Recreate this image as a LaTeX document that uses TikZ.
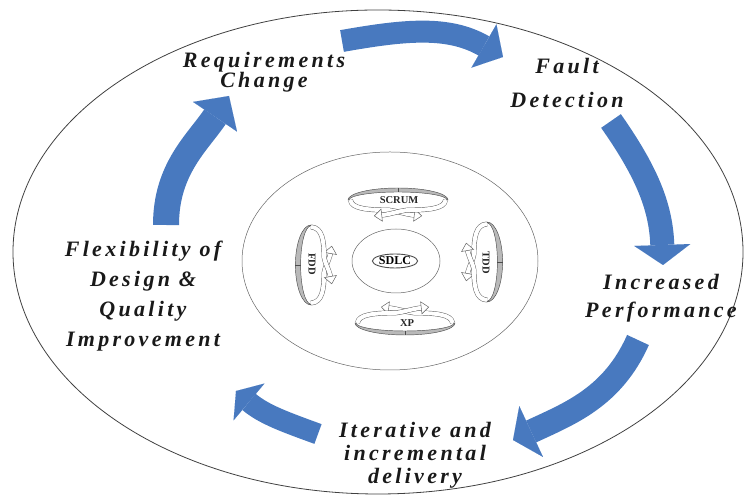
\documentclass[tikz,border=0pt]{standalone}
\usepackage{fontspec}
\setmainfont{Liberation Serif}
\newfontfamily\fazafont[LetterSpace=15]{Liberation Serif}
\usepackage{tikz}
\usetikzlibrary{arrows.meta,shapes.geometric}

\definecolor{modra}{RGB}{72,121,191}
\newcommand{\fazapis}[1]{\fazafont\bfseries\itshape\fontsize{22}{#1}\selectfont}

\tikzset{
  faza/.style={align=center, inner sep=0pt, text=black!90},
  oznaka/.style={inner sep=0pt, font=\bfseries\fontsize{10.5}{12}\selectfont, text=black!85},
  pot/.style n args={3}{draw=modra, line width=#1,
    -{Triangle[length=#2, width=#3, line width=0.01pt]}},
  trak/.style={draw=black!65, line width=0.45pt, double=white, double distance=4pt,
    -{Triangle[length=8pt, width=13pt, fill=white, line width=0.45pt]}},
  krog/.pic={
    %zadnji del obroca
    \filldraw[fill=gray!55, draw=black!70, line width=0.45pt]
      (-50,0) arc (180:0:50 and 12) -- (49,0) arc (0:180:49 and 8) -- cycle;
    \draw[black!70, line width=0.45pt] (0,8) -- (0,12);
    %prekrizani puscici
    \draw[trak] (-47.5,0) .. controls (-47,-9) and (-28,-10) .. (-12,-10)
      .. controls (-4,-10) and (6,-14) .. (24,-16);
    \draw[trak] (47.5,0) .. controls (47,-9) and (28,-10) .. (12,-10)
      .. controls (4,-10) and (-6,-14) .. (-24,-16);
  }
}

\begin{document}
\begin{tikzpicture}[x=1pt,y=1pt]
\useasboundingbox (0,0) rectangle (745,497);

%zunanja in notranja elipsa
\draw[black!75, line width=0.8pt] (378,245) ellipse (365 and 242);
\draw[black!60, line width=0.5pt] (390,236) ellipse (148 and 109);

%jedro
\node[draw=black!60, line width=0.5pt, ellipse, minimum width=88pt, minimum height=64pt] (jedro) at (396,236) {};
\node[draw=black!70, line width=0.9pt, ellipse, inner sep=0pt, minimum width=44pt, minimum height=14pt,
  font=\bfseries\fontsize{12}{12}\selectfont] (sdlc) at (395,236) {SDLC};

%metode okrog jedra
\pic at (398,297) {krog};
\pic[rotate=180] at (405,174) {krog};
\pic[rotate=90, xscale=0.8, yscale=1.3] at (311,232) {krog};
\pic[rotate=-90, xscale=0.8, yscale=1.3] at (487,235) {krog};
\node[oznaka] (scrum) at (399,297) {SCRUM};
\node[oznaka] (xp) at (407,174) {XP};
\node[oznaka, rotate=-90] (fdd) at (312,233) {FDD};
\node[oznaka, rotate=-90] (tdd) at (486,234) {TDD};

%faze cikla
\node[faza, font=\fazapis{20}] (zahteve) at (264,425) {Requirements\\Change};
\node[faza, font=\fazapis{34}] (napake) at (567,414) {Fault\\Detection};
\node[faza, font=\fazapis{28}] (zmogljivost) at (661,199) {Increased\\Performance};
\node[faza, font=\fazapis{23}] (dostava) at (415,42) {Iterative and\\incremental\\delivery};
\node[faza, font=\fazapis{30}] (prilagodljivost) at (143,201) {Flexibility of\\Design \&\\Quality\\Improvement};

%modre puscice
\coordinate (zahteve-iz) at (342,456);
\coordinate (napake-v) at (503,440);
\coordinate (napake-iz) at (611,376);
\coordinate (zmogljivost-v) at (663,232);
\coordinate (zmogljivost-iz) at (638,157);
\coordinate (dostava-v) at (513,57);
\coordinate (dostava-iz) at (318,63);
\coordinate (prilagodljivost-v) at (236,106);
\coordinate (prilagodljivost-iz) at (166,272);
\coordinate (zahteve-v) at (229,401);

\draw[pot={22pt}{22pt}{50pt}] (zahteve-iz) to[out=10,in=150] (napake-v);
\draw[pot={24pt}{20pt}{56pt}] (napake-iz) to[out=-55,in=92] (zmogljivost-v);
\draw[pot={24pt}{20pt}{56pt}] (zmogljivost-iz) to[out=246,in=25] (dostava-v);
\draw[pot={21pt}{17pt}{48pt}] (dostava-iz) to[out=160,in=320] (prilagodljivost-v);
\draw[pot={26pt}{25pt}{53pt}] (prilagodljivost-iz) to[out=90,in=236] (zahteve-v);

\end{tikzpicture}
\end{document}
